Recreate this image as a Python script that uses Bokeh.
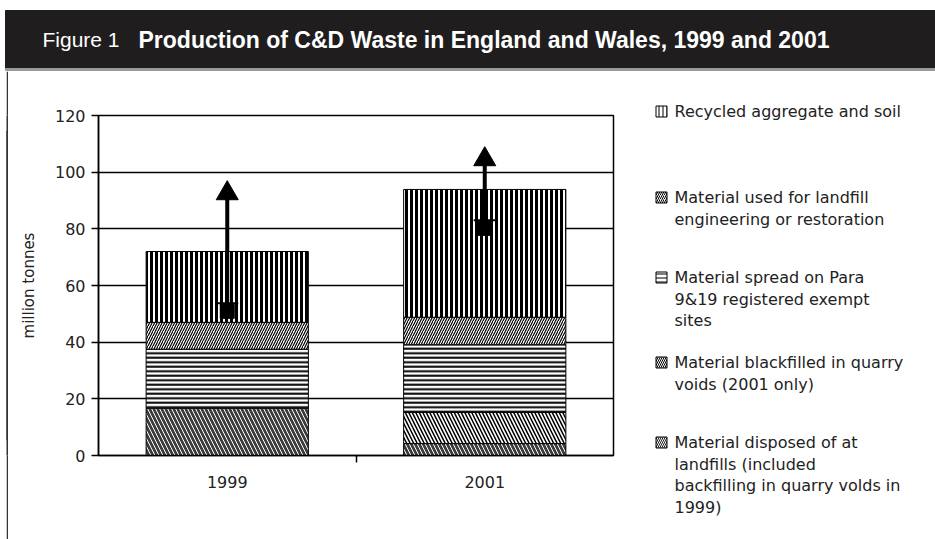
from bokeh.plotting import figure
from bokeh.models import (ColumnDataSource, FactorRange, Range1d,
                          CategoricalAxis, FixedTicker, Spacer)
from bokeh.layouts import column, row
from bokeh.embed import file_html
from bokeh.resources import INLINE
from bokeh.core.properties import value

# ---------------- data ----------------
years = ["1999", "2001"]
landfill = [16.7, 4.2]       # Material disposed of at landfills
backfill = [0.0, 11.0]       # Material backfilled in quarry voids (2001 only)
spread = [20.8, 23.9]        # Material spread on Para 9&19 exempt sites
engineering = [9.5, 9.7]     # Material used for landfill engineering or restoration
recycled = [25.0, 45.1]      # Recycled aggregate and soil
arrow_low = [48.4, 77.7]
arrow_high = [97.0, 109.0]
y_ticks = [0, 20, 40, 60, 80, 100, 120]

title_prefix = "Figure 1"
title_main = "Production of C&D Waste in England and Wales, 1999 and 2001"
y_label = "million tonnes"
legend_labels = [
    "Recycled aggregate and soil",
    "Material used for landfill\nengineering or restoration",
    "Material spread on Para\n9&19 registered exempt\nsites",
    "Material blackfilled in quarry\nvoids (2001 only)",
    "Material disposed of at\nlandfills (included\nbackfilling in quarry volds in\n1999)",
]

# ---------------- styles ----------------
FONT = "DejaVu Sans"
TXT = "#222222"
stackers = ["landfill", "backfill", "spread", "engineering", "recycled"]
st_fill = ["#3c3c3c", "white", "white", "white", "white"]
st_hatch = ["\\", "\\", "-", "/", "|"]
st_hcolor = ["white", "black", "black", "black", "black"]
st_hscale = [8, 7, 4.5, 5, 5]
st_hweight = [1, 1.5, 2, 1.2, 3]

W, TOP_H, LOW_H = 935, 71, 468

# ---------------- title band ----------------
tf = figure(width=W, height=TOP_H, x_range=Range1d(0, W), y_range=Range1d(TOP_H, 0),
            min_border=0, toolbar_location=None, output_backend="svg",
            x_axis_type=None, y_axis_type=None, outline_line_color=None)
tf.quad(left=[5], right=[W], top=[10], bottom=[68], color="#1f1d1d")
tf.quad(left=[5], right=[W], top=[68], bottom=[70], color="#9a9a9a")
tf.text(x=[42], y=[39], text=[title_prefix], text_color="white",
        text_font=value("Liberation Sans"), text_font_size="21px",
        text_baseline="middle")
tf.text(x=[138], y=[39], text=[title_main], text_color="white",
        text_font=value("Liberation Sans"), text_font_size="23px",
        text_font_style="bold", text_baseline="middle")

# ---------------- left border ----------------
bf = figure(width=2, height=LOW_H, min_border=0, toolbar_location=None,
            output_backend="svg", x_axis_type=None, y_axis_type=None,
            background_fill_color="#333333", border_fill_color="#333333",
            outline_line_color=None)
bf.quad(left=[0], right=[1], top=[1], bottom=[0], color="#333333")

# ---------------- chart ----------------
p = figure(width=632, height=LOW_H, x_range=FactorRange(*years), y_range=Range1d(0, 120),
           x_axis_type=None, toolbar_location=None, output_backend="svg",
           min_border_left=90, min_border_right=27, min_border_top=44, min_border_bottom=84)
p.outline_line_color = "black"
p.outline_line_width = 1.5

p.yaxis.ticker = FixedTicker(ticks=y_ticks)
p.ygrid.ticker = FixedTicker(ticks=y_ticks)
p.ygrid.grid_line_color = "black"
p.ygrid.grid_line_width = 1.3
p.yaxis.axis_line_color = "black"
p.yaxis.axis_line_width = 1.5
p.yaxis.major_tick_line_width = 1.5
p.yaxis.major_tick_out = 7
p.yaxis.major_tick_in = 0
p.yaxis.minor_tick_line_color = None
p.yaxis.major_label_standoff = 6
p.yaxis.major_label_text_font = FONT
p.yaxis.major_label_text_font_size = "16px"
p.yaxis.major_label_text_color = TXT
p.yaxis.axis_label = y_label
p.yaxis.axis_label_text_font = FONT
p.yaxis.axis_label_text_font_size = "15px"
p.yaxis.axis_label_text_font_style = "normal"
p.yaxis.axis_label_text_color = TXT
p.yaxis.axis_label_standoff = 14

# category-boundary ticks: a helper factor range whose factor centres fall on
# the boundaries between the year categories
bounds = [" " * (i + 1) for i in range(len(years) + 1)]
p.extra_x_ranges = {"bounds": FactorRange(factors=bounds, range_padding=-0.5,
                                          range_padding_units="absolute")}
bax = CategoricalAxis(x_range_name="bounds",
                      major_label_text_font_size="0px", major_label_standoff=0,
                      axis_line_width=1.5, major_tick_line_width=1.5,
                      major_tick_out=7, major_tick_in=0, minor_tick_line_color=None,
                      group_text_font_size="0px", separator_line_color=None)
p.add_layout(bax, "below")
cax = CategoricalAxis(axis_line_color=None, major_tick_line_color=None,
                      minor_tick_line_color=None, major_label_standoff=7,
                      major_label_text_font=FONT, major_label_text_font_size="16px",
                      major_label_text_color=TXT)
p.add_layout(cax, "below")

src = ColumnDataSource(dict(year=years, landfill=landfill, backfill=backfill,
                            spread=spread, engineering=engineering, recycled=recycled))
p.vbar_stack(stackers, x="year", width=0.63, source=src,
             fill_color=st_fill, hatch_pattern=st_hatch, hatch_color=st_hcolor,
             hatch_scale=st_hscale, hatch_weight=st_hweight,
             line_color="black", line_width=1)

# arrows
ppu = 340 / 120.0
head_size = 22
head_h = head_size / 2 * 3 ** 0.5
head_c = [h - (2 * head_h / 3) / ppu for h in arrow_high]
blk = [l + 7 / ppu for l in arrow_low]
bar_y = [l + 15 / ppu for l in arrow_low]
asrc = ColumnDataSource(dict(year=years, low=arrow_low, headc=head_c, blk=blk, bary=bar_y))
p.segment(x0="year", y0="low", x1="year", y1="headc", source=asrc,
          line_color="black", line_width=4)
p.scatter(x="year", y="headc", source=asrc, marker="triangle", size=head_size,
          fill_color="black", line_color="black")
p.scatter(x="year", y="blk", source=asrc, marker="square", size=14,
          fill_color="black", line_color="black")
p.scatter(x="year", y="bary", source=asrc, marker="dash", size=22,
          line_color="black", line_width=2)

# ---------------- legend ----------------
LG_W = W - 8 - 632
lg = figure(width=LG_W, height=LOW_H, x_range=Range1d(0, LG_W), y_range=Range1d(LOW_H, 0),
            min_border=0, toolbar_location=None, output_backend="svg",
            x_axis_type=None, y_axis_type=None, outline_line_color=None)
item_y = [40, 126, 206, 291, 371]
line_gap = 21.5
order = [4, 3, 2, 1, 0]  # legend top-to-bottom -> stacker index
lx, ly, lt = [], [], []
for k, lab in enumerate(legend_labels):
    for j, line in enumerate(lab.split("\n")):
        lx.append(34)
        ly.append(item_y[k] + j * line_gap)
        lt.append(line)
    si = order[k]
    lg.rect(x=[21], y=[item_y[k]], width=11, height=11,
            fill_color=st_fill[si] if si != 0 else "#222222",
            hatch_pattern=st_hatch[si], hatch_color=st_hcolor[si],
            hatch_scale=4, hatch_weight=1, line_color="black", line_width=1)
lg.text(x=lx, y=ly, text=lt, text_font=value(FONT), text_font_size="16px",
        text_color=TXT, text_baseline="middle")

layout = column(tf, row(Spacer(width=6, height=LOW_H), bf, p, column(lg)))
open("out.html", "w").write(file_html(layout, INLINE))
